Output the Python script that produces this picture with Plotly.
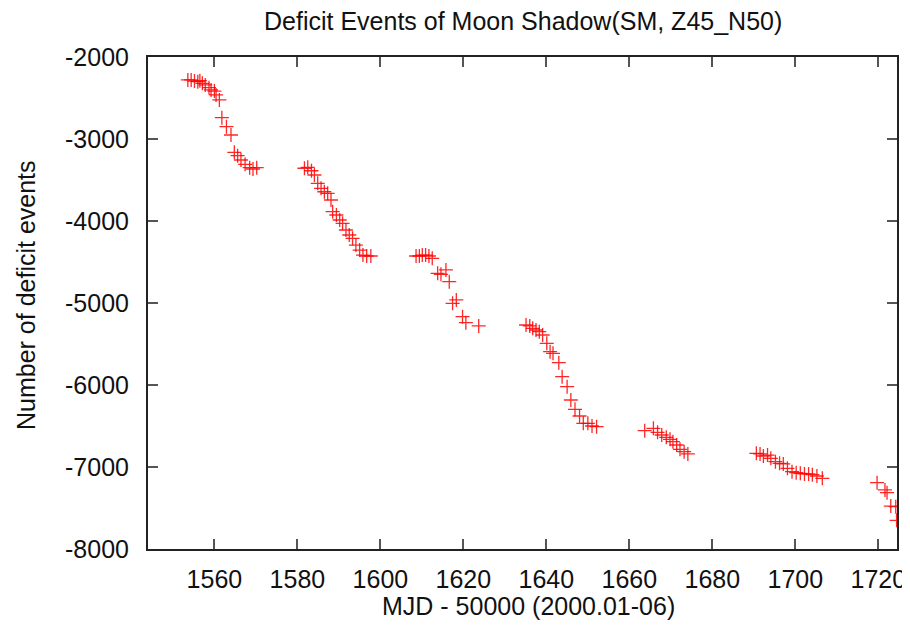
import plotly.graph_objects as go

# Data (MJD - 50000, number of deficit events)
mjd = [
    1553.6, 1554.4, 1555.2, 1556.0, 1556.5, 1557.1, 1557.8, 1558.7, 1559.2, 1560.0,
    1560.4, 1561.2, 1561.8, 1562.9, 1564.0, 1564.8, 1565.6, 1566.4, 1567.4, 1568.5,
    1569.3, 1570.2,
    1581.7, 1582.5, 1583.4, 1584.1, 1584.9, 1585.7, 1586.5, 1587.3, 1588.1, 1588.5,
    1589.4, 1590.2, 1590.9, 1591.7, 1592.5, 1593.3, 1594.1, 1595.0, 1595.8, 1596.7,
    1597.7,
    1608.6, 1609.4, 1610.1, 1610.9, 1611.7, 1612.5, 1613.8, 1614.6, 1615.8, 1616.6,
    1617.4, 1618.3, 1619.8, 1620.6, 1623.7,
    1635.1, 1636.0, 1636.7, 1637.5, 1638.3, 1639.1, 1640.1, 1640.9, 1641.6, 1643.0,
    1643.8, 1645.0, 1645.9, 1646.9, 1648.0, 1648.9, 1650.0, 1651.0, 1652.1,
    1663.7, 1665.8, 1666.8, 1667.8, 1668.9, 1669.8, 1670.5, 1671.4, 1672.2, 1673.2,
    1674.1,
    1690.6, 1691.5, 1692.3, 1693.3, 1694.1, 1695.2, 1696.2, 1697.1, 1698.1, 1699.2,
    1700.2, 1701.2, 1702.2, 1703.2, 1704.1, 1705.2, 1706.5,
    1719.7, 1721.6, 1722.1, 1723.0, 1724.2, 1724.4,
]
deficit = [
    -2280, -2280, -2293, -2301, -2289, -2321, -2341, -2374, -2402, -2415,
    -2463, -2524, -2740, -2850, -2951, -3162, -3203, -3256, -3309, -3350,
    -3366, -3350,
    -3357, -3345, -3387, -3439, -3541, -3601, -3643, -3663, -3744, -3886,
    -3927, -3988, -4028, -4110, -4171, -4211, -4293, -4354, -4415, -4427,
    -4427,
    -4427, -4427, -4415, -4415, -4427, -4455, -4638, -4650, -4597, -4740,
    -5004, -4963, -5167, -5240, -5280,
    -5268, -5280, -5309, -5329, -5350, -5390, -5492, -5594, -5614, -5728,
    -5899, -6021, -6183, -6297, -6378, -6467, -6467, -6500, -6508,
    -6557, -6528, -6577, -6610, -6638, -6662, -6691, -6732, -6784, -6813,
    -6841,
    -6833, -6841, -6866, -6854, -6894, -6935, -6955, -6963, -7016, -7057,
    -7069, -7077, -7085, -7085, -7094, -7110, -7138,
    -7191, -7280, -7313, -7476, -7484, -7650,
]

x_ticks = [1560, 1580, 1600, 1620, 1640, 1660, 1680, 1700, 1720]
y_ticks = [-2000, -3000, -4000, -5000, -6000, -7000, -8000]

title_text = "Deficit Events of Moon Shadow(SM, Z45_N50)"
x_title = "MJD - 50000 (2000.01-06)"
y_title = "Number of deficit events"

FONT = "Liberation Sans, Arial, sans-serif"
FS = 25
TXT = "#111111"
# the page body adds an 8px offset, so the figure is 8px smaller on each side
W, H = 902, 620
ML, MR, MT, MB = 140, 13, 49, 79

fig = go.Figure(
    go.Scatter(
        x=mjd,
        y=deficit,
        mode="markers",
        marker=dict(symbol="cross-thin", size=10,
                    line=dict(color="rgba(255,0,0,0.85)", width=1.3)),
        cliponaxis=True,
        showlegend=False,
    )
)

axis_common = dict(
    showgrid=False,
    zeroline=False,
    showline=True,
    linecolor="#222222",
    linewidth=2,
    mirror="ticks",
    ticks="inside",
    ticklen=10,
    tickwidth=2,
    tickcolor="#555555",
    automargin=False,
    ticklabeloverflow="allow",
    tickfont=dict(family=FONT, size=FS, color=TXT),
)

plot_w = W - ML - MR
plot_h = H - MT - MB


def px_to_paper_x(px):
    return (px - ML) / plot_w


def px_to_paper_y(py):
    return (H - MB - py) / plot_h


fig.update_layout(
    width=W,
    height=H,
    margin=dict(l=ML, r=MR, t=MT, b=MB),
    paper_bgcolor="white",
    plot_bgcolor="white",
    font=dict(family=FONT, size=FS, color=TXT),
    xaxis=dict(
        range=[1544.0, 1724.5],
        tickvals=x_ticks,
        ticktext=[str(v) for v in x_ticks],
        ticklabelstandoff=7,
        **axis_common,
    ),
    yaxis=dict(
        range=[-8000, -2000],
        tickvals=y_ticks,
        ticktext=[str(v) for v in y_ticks],
        ticklabelstandoff=12,
        **axis_common,
    ),
    annotations=[
        dict(text=title_text, xref="paper", yref="paper",
             x=px_to_paper_x(515), y=px_to_paper_y(13),
             xanchor="center", yanchor="middle", showarrow=False,
             font=dict(family=FONT, size=FS, color=TXT)),
        dict(text=x_title, xref="paper", yref="paper",
             x=px_to_paper_x(520), y=px_to_paper_y(598),
             xanchor="center", yanchor="middle", showarrow=False,
             font=dict(family=FONT, size=FS, color=TXT)),
        dict(text=y_title, xref="paper", yref="paper",
             x=px_to_paper_x(18), y=px_to_paper_y(287),
             xanchor="center", yanchor="middle", showarrow=False,
             textangle=-90,
             font=dict(family=FONT, size=FS, color=TXT)),
    ],
)

fig.write_html("out.html")
